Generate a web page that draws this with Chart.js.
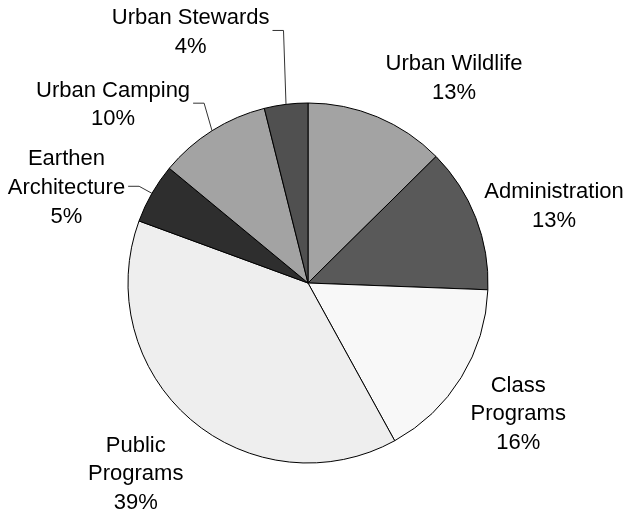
<!DOCTYPE html>
<html>
<head>
<meta charset="utf-8">
<script src="https://cdn.jsdelivr.net/npm/chart.js@4"></script>
<style>
  html, body { margin: 0; padding: 0; background: #ffffff; }
  #wrap { width: 624px; height: 516px; position: relative; }
</style>
</head>
<body>
<div id="wrap"><canvas id="c"></canvas></div>
<script>
// ---- data ----
const categories = ["Urban Wildlife", "Administration", "Class Programs", "Public Programs", "Earthen Architecture", "Urban Camping", "Urban Stewards"];
const values = [12.6, 13.0, 16.4, 38.6, 5.4, 10.1, 3.9];
// label text lines (category name split as displayed)
const labelLines = [["Urban Wildlife"], ["Administration"], ["Class", "Programs"], ["Public", "Programs"], ["Earthen", "Architecture"], ["Urban Camping"], ["Urban Stewards"]];

// ---- styles / layout ----
const colors = ["#a3a3a3", "#595959", "#f8f8f8", "#eeeeee", "#2e2e2e", "#a3a3a3", "#505050"];
// label anchor (first line baseline, centre x) relative to pie centre, in units of the radius
const labelOffsets = [[0.811, -1.183], [1.367, -0.470], [1.168, 0.604], [-0.957, 0.937], [-1.342, -0.653], [-1.083, -1.035], [-0.652, -1.439]];
const hasLeader = [false, false, false, false, true, true, true];
const FONT_SIZE = 22;
const LINE_H = 28.7;

const labelPlugin = {
  id: 'pieLabels',
  afterDraw(chart) {
    const ctx = chart.ctx;
    const meta = chart.getDatasetMeta(0);
    const total = values.reduce((a, b) => a + b, 0);
    ctx.save();
    ctx.font = FONT_SIZE + 'px "Liberation Sans", Arial, sans-serif';
    ctx.fillStyle = '#000000';
    ctx.textAlign = 'center';
    ctx.textBaseline = 'alphabetic';
    meta.data.forEach((arc, i) => {
      const cx = arc.x, cy = arc.y, r = arc.outerRadius;
      const lx = cx + labelOffsets[i][0] * r;
      const ly = cy + labelOffsets[i][1] * r;
      const lines = labelLines[i].concat([Math.round(values[i] / total * 100) + '%']);
      let maxW = 0;
      lines.forEach((t, k) => {
        ctx.fillText(t, lx, ly + k * LINE_H);
        maxW = Math.max(maxW, ctx.measureText(t).width);
      });
      if (hasLeader[i]) {
        const mid = (arc.startAngle + arc.endAngle) / 2;
        const px = cx + Math.cos(mid) * r;
        const py = cy + Math.sin(mid) * r;
        const top = ly - FONT_SIZE * 0.716;
        const bottom = ly + (lines.length - 1) * LINE_H;
        const sy = (top + bottom) / 2;
        const sx = lx + maxW / 2 + 3;
        ctx.beginPath();
        ctx.strokeStyle = '#333333';
        ctx.lineWidth = 1;
        ctx.moveTo(sx, sy);
        ctx.lineTo(sx + 11, sy);
        ctx.lineTo(px, py);
        ctx.stroke();
      }
    });
    ctx.restore();
  }
};

new Chart(document.getElementById('c'), {
  type: 'pie',
  data: {
    labels: categories,
    datasets: [{
      data: values,
      backgroundColor: colors,
      borderColor: '#000000',
      borderWidth: 1,
      hoverBorderWidth: 1,
      hoverOffset: 0
    }]
  },
  options: {
    responsive: true,
    maintainAspectRatio: false,
    animation: false,
    events: [],
    layout: { padding: { top: 102.5, bottom: 52.5, left: 100, right: 108 } },
    plugins: {
      legend: { display: false },
      tooltip: { enabled: false },
      title: { display: false }
    }
  },
  plugins: [labelPlugin]
});
</script>
</body>
</html>
